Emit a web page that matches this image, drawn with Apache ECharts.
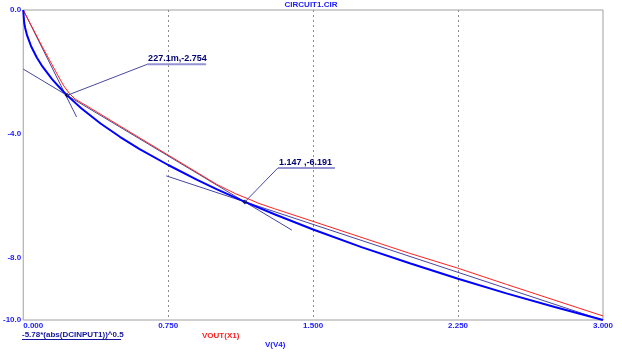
<!DOCTYPE html>
<html>
<head>
<meta charset="utf-8">
<script src="https://cdn.jsdelivr.net/npm/echarts@6/dist/echarts.min.js"></script>
<style>
  html, body { margin: 0; padding: 0; background: #fff; }
  #main { width: 622px; height: 354px; }
</style>
</head>
<body>
<div id="main"></div>
<script>
// values (x = V(V4), y in volts)
const exprX = [0, 0.005, 0.01, 0.02, 0.04, 0.07, 0.1, 0.15, 0.2, 0.227, 0.3, 0.4, 0.5, 0.6, 0.75, 0.9, 1.0, 1.147, 1.3, 1.5, 1.75, 2.0, 2.25, 2.5, 2.75, 3.0];
const exprY = [0, -0.41, -0.58, -0.82, -1.16, -1.53, -1.83, -2.24, -2.58, -2.754, -3.17, -3.66, -4.09, -4.48, -5.0, -5.48, -5.78, -6.19, -6.59, -7.08, -7.65, -8.17, -8.67, -9.14, -9.58, -10.0];

const voutX = [0, 0.1, 0.18, 0.21, 0.24, 0.27, 0.32, 0.5, 0.75, 1.0, 1.1, 1.16, 1.22, 1.3, 1.5, 2.0, 2.25, 2.5, 3.0];
const voutY = [0, -1.2, -2.12, -2.45, -2.7, -2.88, -3.06, -3.74, -4.68, -5.62, -5.93, -6.08, -6.24, -6.41, -6.82, -7.85, -8.33, -8.85, -9.87];

// straight approximation segments drawn in navy
const segmentLines = [
  [[0, 0], [0.276, -3.45]],
  [[0, -1.906], [1.39, -7.10]],
  [[0.74, -5.35], [3.0, -10.01]]
];

const cursorPoints = [[0.2271, -2.754], [1.147, -6.191]];
const cursorLabels = ['227.1m,-2.754', '1.147 ,-6.191'];

const xTicks = [0, 0.75, 1.5, 2.25, 3];
const yLabelValues = [0, -4, -8, -10];
const yGridValues = [-4, -8];

const titleText = 'CIRCUIT1.CIR';
const exprName = '-5.78*(abs(DCINPUT1))^0.5';
const voutName = 'VOUT(X1)';
const xName = 'V(V4)';

const FONT = '"Liberation Sans", Arial, sans-serif';
const chart = echarts.init(document.getElementById('main'));

function pairs(xs, ys) {
  return xs.map((x, i) => [x, ys[i]]);
}

const series = [];
segmentLines.forEach(seg => {
  series.push({
    type: 'line', data: seg, showSymbol: false, silent: true,
    lineStyle: { color: '#4545a0', width: 1 }, z: 2
  });
});
series.push({
  name: voutName, type: 'line', data: pairs(voutX, voutY), showSymbol: false,
  lineStyle: { color: '#ff2020', width: 1 }, z: 3
});
series.push({
  name: exprName, type: 'line', data: pairs(exprX, exprY), showSymbol: false,
  lineStyle: { color: '#0000ff', width: 2 }, z: 4
});
series.push({
  type: 'scatter', data: cursorPoints, symbol: 'diamond', symbolSize: 5,
  itemStyle: { color: '#000050' }, z: 6
});

chart.setOption({
  animation: false,
  title: {
    text: titleText, left: 'center', top: 1, padding: 0,
    textStyle: { fontSize: 8, fontWeight: 'bold', color: '#2020ff', fontFamily: FONT }
  },
  grid: {
    left: 22, right: 19, top: 10, bottom: 34,
    show: true, borderColor: '#a0a0a0', borderWidth: 1
  },
  xAxis: {
    type: 'value', min: 0, max: 3, interval: 0.75,
    axisLine: { show: false }, axisTick: { show: false },
    axisLabel: {
      margin: 2, color: '#1a1aff', fontSize: 8, fontWeight: 'bold', fontFamily: FONT,
      formatter: v => v.toFixed(3), alignMinLabel: 'left', alignMaxLabel: 'center'
    },
    splitLine: {
      show: true, showMinLine: false, showMaxLine: false,
      lineStyle: { color: '#8c8c8c', type: [2, 3], width: 1 }
    }
  },
  yAxis: {
    type: 'value', min: -10, max: 0,
    axisLine: { show: false },
    axisTick: { show: false, customValues: yGridValues },
    axisLabel: {
      customValues: yLabelValues,
      margin: 2, color: '#1a1aff', fontSize: 8, fontWeight: 'bold', fontFamily: FONT,
      formatter: v => v.toFixed(1)
    },
    splitLine: {
      show: true, showMinLine: false, showMaxLine: false,
      lineStyle: { color: '#8c8c8c', type: [2, 3], width: 1 }
    }
  },
  series: series
});

// cursor labels with leader + underline, offsets in pixels from the cursor point
const leaderOffsets = [[80, -31], [33, -34]];
const underlineLen = [59, 57];
const graphics = [];
cursorPoints.forEach((pt, i) => {
  const p = chart.convertToPixel({ gridIndex: 0 }, pt);
  const ex = p[0] + leaderOffsets[i][0];
  const ey = p[1] + leaderOffsets[i][1];
  graphics.push({
    type: 'line', shape: { x1: p[0], y1: p[1], x2: ex, y2: ey },
    style: { stroke: '#4848a0', lineWidth: 1 }, z: 10
  });
  graphics.push({
    type: 'line', shape: { x1: ex, y1: ey, x2: ex + underlineLen[i], y2: ey },
    style: { stroke: '#9494d4', lineWidth: 2 }, z: 10
  });
  graphics.push({
    type: 'text', x: ex + 1, y: ey - 10,
    style: { text: cursorLabels[i], fill: '#000070', font: 'bold 9px ' + FONT }, z: 11
  });
});

// captions under the plot
graphics.push({
  type: 'text', x: 22, y: 331,
  style: { text: exprName, fill: '#1414a0', font: 'bold 8px ' + FONT }
});
graphics.push({
  type: 'line', shape: { x1: 22, y1: 339.5, x2: 121, y2: 339.5 },
  style: { stroke: '#1414a0', lineWidth: 1 }
});
graphics.push({
  type: 'text', x: 202, y: 332,
  style: { text: voutName, fill: '#ff2020', font: 'bold 8px ' + FONT }
});
graphics.push({
  type: 'text', x: 265, y: 341,
  style: { text: xName, fill: '#1a1aff', font: 'bold 8px ' + FONT }
});

chart.setOption({ graphic: graphics });
</script>
</body>
</html>
